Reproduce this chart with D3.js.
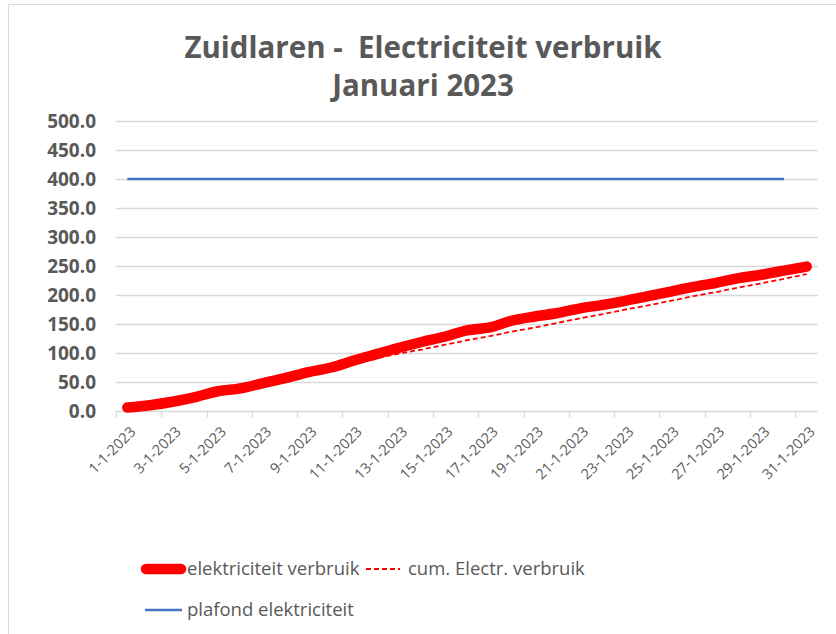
<!DOCTYPE html>
<html>
<head>
<meta charset="utf-8">
<script src="https://cdn.jsdelivr.net/npm/d3@7"></script>
<style>
  body { margin: 0; background: #fff; }
  svg text { font-family: "Open Sans", sans-serif; fill: #595959; white-space: pre; }
</style>
</head>
<body>
<div class="chart"></div>
<script>
var dagen = ["1-1-2023","2-1-2023","3-1-2023","4-1-2023","5-1-2023","6-1-2023","7-1-2023","8-1-2023",
  "9-1-2023","10-1-2023","11-1-2023","12-1-2023","13-1-2023","14-1-2023","15-1-2023","16-1-2023",
  "17-1-2023","18-1-2023","19-1-2023","20-1-2023","21-1-2023","22-1-2023","23-1-2023","24-1-2023",
  "25-1-2023","26-1-2023","27-1-2023","28-1-2023","29-1-2023","30-1-2023","31-1-2023"];

// elektriciteit verbruik (dik rood)
var verbruik = [6, 10, 16, 24, 34, 39, 48, 57, 67, 75, 87, 98, 109, 119, 128, 139,
  144, 156, 163, 169, 177, 183, 190, 198, 206, 214, 221, 229, 235, 242, 249];

// cum. Electr. verbruik (gestippeld)
var cumVerbruik = [8, 15, 23, 30, 38, 46, 53, 61, 68, 76, 84, 91, 99, 106, 114, 122,
  129, 137, 144, 152, 160, 167, 175, 182, 190, 198, 205, 213, 220, 228, 236];

// plafond elektriciteit (blauw), t/m 30-1
var plafond = [400, 400, 400, 400, 400, 400, 400, 400, 400, 400, 400, 400, 400, 400, 400,
  400, 400, 400, 400, 400, 400, 400, 400, 400, 400, 400, 400, 400, 400, 400];

var yTicks = [0, 50, 100, 150, 200, 250, 300, 350, 400, 450, 500];
var titel = ["Zuidlaren -  Electriciteit verbruik", "Januari 2023"];

var width = 836, height = 634;
var margin = {left: 116, right: 18, top: 121, bottom: 223};

var svg = d3.select("div.chart").append("svg")
  .attr("width", width)
  .attr("height", height);

// chart border
svg.append("rect")
  .attr("x", 8.5).attr("y", 4.5)
  .attr("width", 900).attr("height", 700)
  .attr("fill", "none").attr("stroke", "#d9d9d9");

var x = d3.scaleBand()
  .domain(dagen)
  .range([margin.left, width - margin.right]);

var y = d3.scaleLinear()
  .domain([0, 500])
  .range([height - margin.bottom, margin.top]);

// title
svg.append("g").selectAll("text")
  .data(titel)
  .enter().append("text")
  .attr("x", 423)
  .attr("y", (d, i) => 58 + i * 38)
  .attr("text-anchor", "middle")
  .attr("xml:space", "preserve")
  .style("font-size", "29.5px")
  .style("font-weight", "bold")
  .text(d => d);

// gridlines
svg.append("g")
  .selectAll("line")
  .data(yTicks.slice(1))
  .enter().append("line")
  .attr("x1", margin.left).attr("x2", width - margin.right)
  .attr("y1", d => Math.round(y(d)) + 0.5).attr("y2", d => Math.round(y(d)) + 0.5)
  .attr("stroke", "#d9d9d9").attr("stroke-width", 1.3);

// y labels
svg.append("g")
  .selectAll("text")
  .data(yTicks)
  .enter().append("text")
  .attr("x", 96)
  .attr("y", d => y(d))
  .attr("dy", "0.36em")
  .attr("text-anchor", "end")
  .style("font-size", "19px")
  .style("font-weight", "bold")
  .text(d => d3.format(".1f")(d));

// x axis
var xAxis = svg.append("g")
  .attr("transform", "translate(0," + (Math.round(y(0)) + 0.5) + ")");
xAxis.append("line")
  .attr("x1", margin.left).attr("x2", width - margin.right)
  .attr("stroke", "#d9d9d9").attr("stroke-width", 1.3);
xAxis.selectAll("line.tick")
  .data(dagen.filter((d, i) => i % 2 == 0))
  .enter().append("line")
  .attr("class", "tick")
  .attr("x1", d => Math.round(x(d)) + 0.5).attr("x2", d => Math.round(x(d)) + 0.5)
  .attr("y1", 0).attr("y2", 6)
  .attr("stroke", "#d9d9d9").attr("stroke-width", 1.3);
xAxis.selectAll("text")
  .data(dagen.filter((d, i) => i % 2 == 0))
  .enter().append("text")
  .attr("transform", d => "translate(" + (x(d) + x.bandwidth() / 2 + 2) + ",14) rotate(-45)")
  .attr("text-anchor", "end")
  .attr("dy", "0.7em")
  .style("font-size", "14.5px")
  .text(d => d);

var line = d3.line()
  .x((d, i) => x(dagen[i]) + x.bandwidth() / 2)
  .y(d => y(d));

svg.append("path")
  .datum(plafond)
  .attr("d", line)
  .attr("fill", "none")
  .attr("stroke", "#4472c4")
  .attr("stroke-width", 2.6);

svg.append("path")
  .datum(verbruik)
  .attr("d", line.curve(d3.curveMonotoneX))
  .attr("fill", "none")
  .attr("stroke", "#ff0000")
  .attr("stroke-width", 10.5)
  .attr("stroke-linecap", "round")
  .attr("stroke-linejoin", "round");

svg.append("path")
  .datum(cumVerbruik)
  .attr("d", line.curve(d3.curveLinear))
  .attr("fill", "none")
  .attr("stroke", "#ff0000")
  .attr("stroke-width", 1.8)
  .attr("stroke-dasharray", "5,3");

// legend
var legend = [
  {naam: "elektriciteit verbruik", kleur: "#ff0000", dik: 10.5, dash: null, x: 146, y: 569, tw: 35, tx: 187},
  {naam: "cum. Electr. verbruik", kleur: "#ff0000", dik: 1.8, dash: "5,3", x: 366, y: 569, tw: 34, tx: 408},
  {naam: "plafond elektriciteit", kleur: "#4472c4", dik: 2.6, dash: null, x: 145, y: 610, tw: 37, tx: 187}
];
var lg = svg.append("g").selectAll("g")
  .data(legend)
  .enter().append("g");
lg.append("line")
  .attr("x1", d => d.x).attr("x2", d => d.x + d.tw)
  .attr("y1", d => d.y).attr("y2", d => d.y)
  .attr("stroke", d => d.kleur)
  .attr("stroke-width", d => d.dik)
  .attr("stroke-dasharray", d => d.dash)
  .attr("stroke-linecap", d => d.dik > 5 ? "round" : "butt");
lg.append("text")
  .attr("x", d => d.tx)
  .attr("y", d => d.y)
  .attr("dy", "0.35em")
  .style("font-size", "18.5px")
  .text(d => d.naam);
</script>
</body>
</html>
